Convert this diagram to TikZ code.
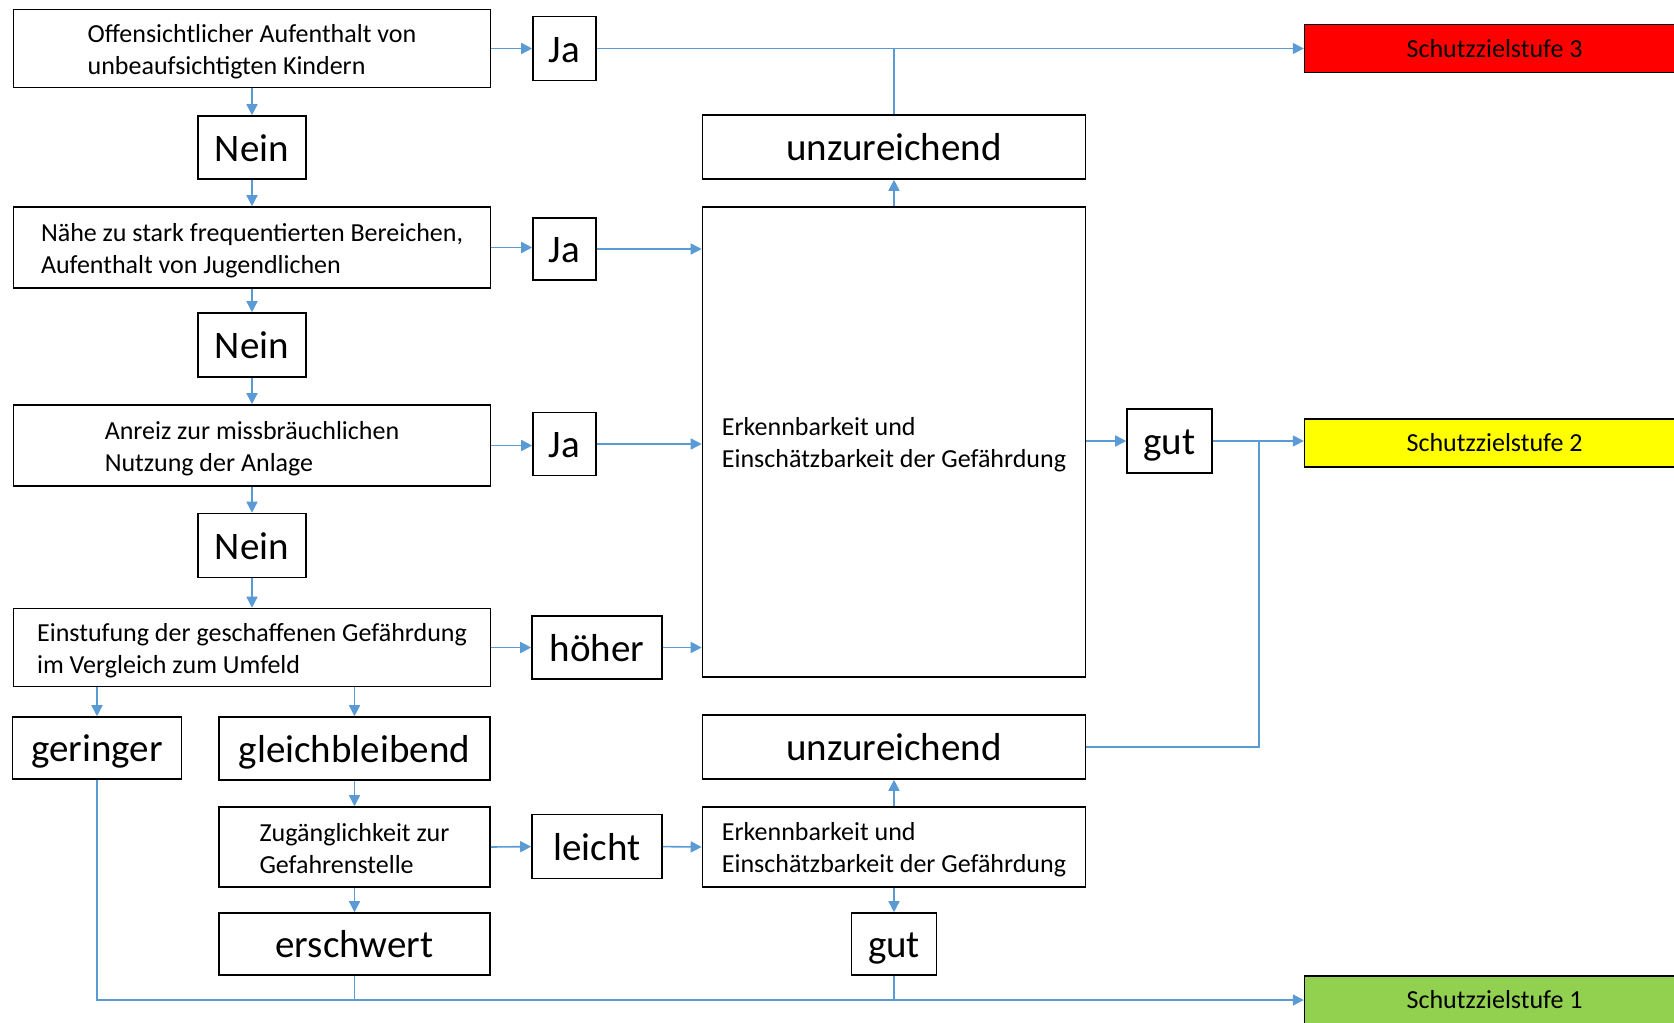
\documentclass[tikz,border=0pt]{standalone}
\usepackage{fontspec}
\setmainfont{Carlito}
\usetikzlibrary{arrows.meta}
\definecolor{lineblue}{HTML}{5B9BD5}
\definecolor{stred}{HTML}{FF0000}
\definecolor{styellow}{HTML}{FFFF00}
\definecolor{stgreen}{HTML}{92D050}
\newcommand\sst{\rule[-4pt]{0pt}{28pt}}
\begin{document}
\begin{tikzpicture}[x=1pt,y=-1pt,
  box/.style={draw=black,line width=1.6pt,inner sep=0pt,fill=white},
  small/.style={font=\fontsize{26}{32}\selectfont,align=left},
  big/.style={font=\fontsize{39}{44}\selectfont,text height=32pt,text depth=4.4pt},
  conn/.style={draw=lineblue,line width=1.6pt},
  arr/.style={conn,-{Triangle[length=11pt,width=11pt]}},
  stufe/.style={draw=black,line width=1.6pt,minimum width=380pt,minimum height=48pt,inner sep=0pt,font=\fontsize{26}{32}\selectfont,text height=18pt,text depth=1.2pt}
]
\useasboundingbox (0,0) rectangle (1674,1023);
\fill[white] (0,0) rectangle (1674,1023);

% left column
\node[box,small,minimum width=477pt,minimum height=78pt] (b1) at (252,48.5) {\sst Offensichtlicher Aufenthalt von\\\sst unbeaufsichtigten Kindern};
\node[box,big,minimum width=63pt,minimum height=64pt] (ja1) at (564.5,48.5) {Ja};
\node[box,big,minimum width=108pt,minimum height=63pt] (nein1) at (252,147.5) {Nein};
\node[box,small,minimum width=477pt,minimum height=81pt] (b2) at (252,247.5) {\sst Nähe zu stark frequentierten Bereichen,\\\sst Aufenthalt von Jugendlichen};
\node[box,big,minimum width=63pt,minimum height=62pt] (ja2) at (564.5,249) {Ja};
\node[box,big,minimum width=108pt,minimum height=64pt] (nein2) at (252,345) {Nein};
\node[box,small,minimum width=477pt,minimum height=81pt] (b3) at (252,445.5) {\sst Anreiz zur missbräuchlichen\\\sst Nutzung der Anlage};
\node[box,big,minimum width=63pt,minimum height=63pt] (ja3) at (564.5,444) {Ja};
\node[box,big,minimum width=108pt,minimum height=64pt] (nein3) at (252,545.5) {Nein};
\node[box,small,minimum width=477pt,minimum height=78pt] (b4) at (252,647.5) {\sst Einstufung der geschaffenen Gefährdung\\\sst im Vergleich zum Umfeld};
\node[box,big,minimum width=130pt,minimum height=63pt] (hoeher) at (597,647.5) {höher};
\node[box,big,minimum width=169pt,minimum height=62pt] (geringer) at (97,748) {geringer};
\node[box,big,minimum width=271pt,minimum height=63pt] (gleich) at (354.5,748.5) {gleichbleibend};
\node[box,small,minimum width=271pt,minimum height=80pt] (zug) at (354.5,847) {\sst Zugänglichkeit zur\\\sst Gefahrenstelle};
\node[box,big,minimum width=130pt,minimum height=64pt] (leicht) at (597,846.6) {leicht};
\node[box,big,minimum width=271pt,minimum height=62pt] (erschwert) at (354.5,944) {erschwert};

% middle column
\node[box,big,minimum width=383pt,minimum height=64pt] (unz1) at (894,147) {unzureichend};
\node[box,small,minimum width=383pt,minimum height=470pt] (erk1) at (894,442) {\sst Erkennbarkeit und\\\sst Einschätzbarkeit der Gefährdung};
\node[box,big,minimum width=85pt,minimum height=64pt] (gut1) at (1169.5,441) {gut};
\node[box,big,minimum width=383pt,minimum height=64pt] (unz2) at (894,747) {unzureichend};
\node[box,small,minimum width=383pt,minimum height=80pt] (erk2) at (894,847) {\sst Erkennbarkeit und\\\sst Einschätzbarkeit der Gefährdung};
\node[box,big,minimum width=85pt,minimum height=62pt] (gut2) at (894,944) {gut};

% Schutzzielstufen
\node[stufe,fill=stred] (s3) at (1494.6,48.6) {Schutzzielstufe 3};
\node[stufe,fill=styellow] (s2) at (1494.6,443) {Schutzzielstufe 2};
\node[stufe,fill=stgreen] (s1) at (1494.6,1000) {Schutzzielstufe 1};

\coordinate (j2) at (1259,441);

% connectors
\draw[arr] (b1.east) -- (ja1.west);
\draw[arr] (b1.south) -- (nein1.north);
\draw[arr] (nein1.south) -- (b2.north);
\draw[arr] (b2.east) -- (b2.east -| ja2.west);
\draw[arr] (b2.south) -- (nein2.north);
\draw[arr] (nein2.south) -- (b3.north);
\draw[arr] (b3.east) -- (b3.east -| ja3.west);
\draw[arr] (b3.south) -- (nein3.north);
\draw[arr] (nein3.south) -- (b4.north);
\draw[arr] (b4.east) -- (hoeher.west);
\draw[arr] (b4.south -| geringer.north) -- (geringer.north);
\draw[arr] (b4.south -| gleich.north) -- (gleich.north);
\draw[arr] (gleich.south) -- (zug.north);
\draw[arr] (zug.south) -- (erschwert.north);
\draw[arr] (zug.east) -- (leicht.west);
\draw[arr] (leicht.east) -- (erk2.west);
\draw[arr] (erk2.north) -- (unz2.south);
\draw[arr] (erk2.south) -- (gut2.north);

\draw[arr] (ja1.east) -- (ja1.east -| s3.west);
\draw[conn] (unz1.north) -- (unz1.north |- ja1.east);
\draw[arr] (ja2.east) -- (ja2.east -| erk1.west);
\draw[arr] (ja3.east) -- (ja3.east -| erk1.west);
\draw[arr] (hoeher.east) -- (hoeher.east -| erk1.west);
\draw[arr] (erk1.north) -- (unz1.south);
\draw[arr] (erk1.east |- gut1.west) -- (gut1.west);
\draw[arr] (gut1.east) -- (gut1.east -| s2.west);
\draw[conn] (unz2.east) -| (j2);

\draw[arr] (geringer.south) |- (s1.west);
\draw[conn] (erschwert.south) -- (erschwert.south |- s1.west);
\draw[conn] (gut2.south) -- (gut2.south |- s1.west);
\end{tikzpicture}
\end{document}
